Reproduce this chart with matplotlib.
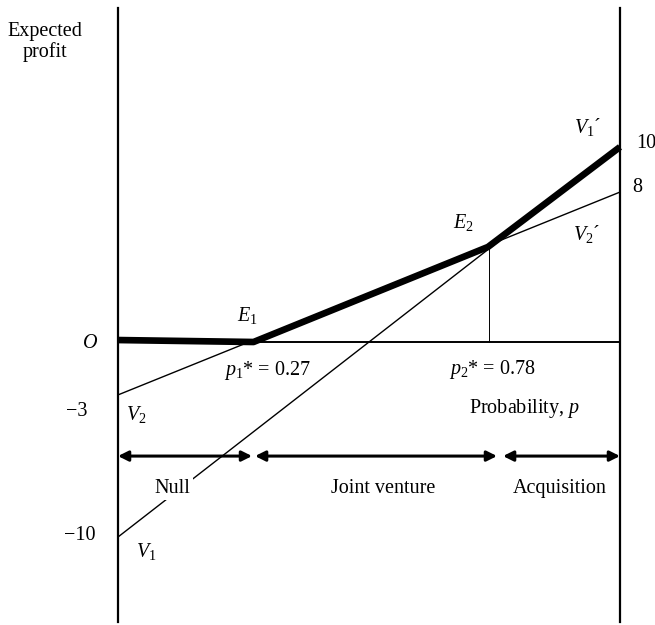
import matplotlib.pyplot as plt

plt.rcParams['font.family'] = 'Liberation Serif'
plt.rcParams['mathtext.fontset'] = 'custom'
plt.rcParams['mathtext.rm'] = 'Liberation Serif'
plt.rcParams['mathtext.it'] = 'Liberation Serif:italic'

# values (drawing is not exactly to scale)
p_ends = [0, 1]
v1 = [-9.95, 9.95]
v2 = [-2.7, 7.65]
p_env = [0, 0.27, 0.737, 1]
v_env = [0.1, 0, 4.85, 9.95]
p2_star = 0.74
e2_val = 4.85
regions = ['Null', 'Joint venture', 'Acquisition']
region_edges = [(0, 0.267), (0.273, 0.755), (0.767, 1)]
region_x = [0.108, 0.528, 0.880]

fig = plt.figure(figsize=(6.55, 6.25), dpi=100)
ax = fig.add_axes([0, 0, 1, 1])
ax.set_xlim(-118 / 502, 537 / 502)
ax.set_ylim(-283 / 19.6, 342 / 19.6)
ax.axis('off')

# frame: two verticals and the zero line
ax.plot([0, 0], [-14.3, 17.05], color='black', lw=1.6)
ax.plot([1, 1], [-14.3, 17.05], color='black', lw=1.6)
ax.plot([0, 1], [0, 0], color='black', lw=1.4)

# value lines
ax.plot(p_ends, v2, color='black', lw=1.0)
ax.plot(p_ends, v1, color='black', lw=1.0)
ax.plot(p_env, v_env, color='black', lw=4.8, solid_capstyle='butt')
ax.plot([p2_star, p2_star], [0, e2_val], color='black', lw=0.7)

# region arrows
ya = -5.82
for (a, b) in region_edges:
    ax.annotate('', xy=(b, ya), xytext=(a, ya),
                arrowprops=dict(arrowstyle='<|-|>', color='black', lw=2.2,
                                mutation_scale=15, shrinkA=0, shrinkB=0))
fs = 14.5
for name, x in zip(regions, region_x):
    ax.text(x, -7.45, name, ha='center', va='center', fontsize=fs,
            bbox=dict(facecolor='white', edgecolor='none', pad=2), zorder=5)

ax.text(-0.146, 15.3, 'Expected\nprofit', ha='center', va='center',
        fontsize=fs, linespacing=1.05)
ax.text(-0.056, -0.1, '$O$', ha='center', va='center', fontsize=fs)
ax.text(-0.082, -3.57, '\u22123', ha='center', va='center', fontsize=fs)
ax.text(-0.076, -9.85, '\u221210', ha='center', va='center', fontsize=fs)
ax.text(1.052, 10.15, '10', ha='center', va='center', fontsize=fs)
ax.text(1.034, 7.86, '8', ha='center', va='center', fontsize=fs)
ax.text(0.936, 10.97, '$V_1$\u00b4', ha='center', va='center', fontsize=fs)
ax.text(0.934, 5.51, '$V_2$\u00b4', ha='center', va='center', fontsize=fs)
ax.text(0.257, 1.33, '$E_1$', ha='center', va='center', fontsize=fs)
ax.text(0.689, 6.12, '$E_2$', ha='center', va='center', fontsize=fs)
ax.text(0.297, -1.45, '$p_1$* = 0.27', ha='center', va='center', fontsize=fs)
ax.text(0.745, -1.4, '$p_2$* = 0.78', ha='center', va='center', fontsize=fs)
ax.text(0.809, -3.37, 'Probability, $p$', ha='center', va='center', fontsize=fs)
ax.text(0.036, -3.72, '$V_2$', ha='center', va='center', fontsize=fs)
ax.text(0.056, -10.71, '$V_1$', ha='center', va='center', fontsize=fs)

fig.savefig('out.png', dpi=100)
